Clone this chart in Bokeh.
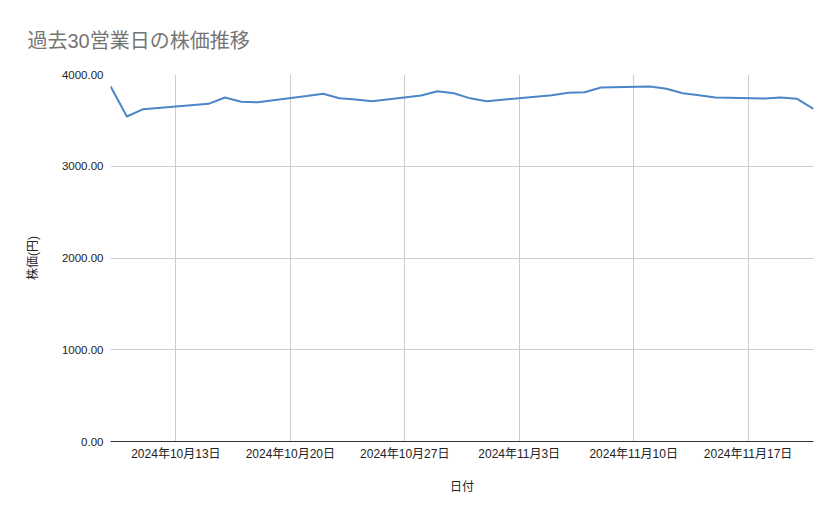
import pandas as pd
from bokeh.plotting import figure
from bokeh.models import FixedTicker, Range1d, NumeralTickFormatter, ColumnDataSource
from bokeh.embed import file_html
from bokeh.resources import INLINE

# ---- data ----
dates = ["2024-10-09", "2024-10-10", "2024-10-11", "2024-10-15", "2024-10-16",
         "2024-10-17", "2024-10-18", "2024-10-21", "2024-10-22", "2024-10-23",
         "2024-10-24", "2024-10-25", "2024-10-28", "2024-10-29", "2024-10-30",
         "2024-10-31", "2024-11-01", "2024-11-05", "2024-11-06", "2024-11-07",
         "2024-11-08", "2024-11-11", "2024-11-12", "2024-11-13", "2024-11-14",
         "2024-11-15", "2024-11-18", "2024-11-19", "2024-11-20", "2024-11-21"]
prices = [3872, 3542, 3622, 3680, 3749, 3702, 3698, 3765, 3790, 3742,
          3727, 3709, 3771, 3818, 3795, 3740, 3709, 3773, 3800, 3807,
          3858, 3869, 3844, 3796, 3775, 3749, 3738, 3749, 3735, 3626]
tick_dates = ["2024-10-13", "2024-10-20", "2024-10-27", "2024-11-03", "2024-11-10", "2024-11-17"]
tick_labels = ["2024年10月13日", "2024年10月20日", "2024年10月27日",
               "2024年11月3日", "2024年11月10日", "2024年11月17日"]
y_ticks = [0, 1000, 2000, 3000, 4000]
title_text = "過去30営業日の株価推移"
x_title = "日付"
y_title = "株価(円)"

FONT = "'Liberation Sans', 'Noto Sans CJK JP', sans-serif"

x = pd.to_datetime(dates)
src = ColumnDataSource(dict(x=x, y=prices))

tick_ms = [int(pd.Timestamp(d).value // 10**6) for d in tick_dates]

p = figure(width=839, height=519, x_axis_type="datetime",
           output_backend="svg", toolbar_location=None,
           x_range=Range1d(x[0], x[-1]), y_range=Range1d(0, 4000),
           min_border_left=110, min_border_right=26,
           min_border_top=74, min_border_bottom=78)
p.outline_line_color = None
p.background_fill_color = "white"
p.border_fill_color = "white"

p.line("x", "y", source=src, line_color="#4a86c8", line_width=2)

# title
p.title.text = title_text
p.title.align = "left"
p.title.offset = -83
p.title.standoff = 45
p.title.text_font = FONT
p.title.text_font_size = "20px"
p.title.text_font_style = "normal"
p.title.text_color = "#757575"

# x axis
xa = p.xaxis[0]
xa.ticker = FixedTicker(ticks=tick_ms)
xa.major_label_overrides = {t: l for t, l in zip(tick_ms, tick_labels)}
xa.major_tick_line_color = None
xa.minor_tick_line_color = None
xa.major_tick_out = 0
xa.major_tick_in = 0
xa.minor_tick_out = 0
xa.axis_line_color = "#333333"
xa.axis_line_width = 1
xa.major_label_standoff = 5
xa.major_label_text_font = FONT
xa.major_label_text_font_size = "12px"
xa.major_label_text_color = "#222222"
xa.axis_label = x_title
xa.axis_label_standoff = 16
xa.axis_label_text_font = FONT
xa.axis_label_text_font_size = "12px"
xa.axis_label_text_font_style = "normal"
xa.axis_label_text_color = "#222222"

# y axis
ya = p.yaxis[0]
ya.ticker = FixedTicker(ticks=y_ticks)
ya.formatter = NumeralTickFormatter(format="0.00")
ya.major_tick_line_color = None
ya.minor_tick_line_color = None
ya.major_tick_out = 0
ya.major_tick_in = 0
ya.minor_tick_out = 0
ya.axis_line_color = None
ya.major_label_standoff = 7
ya.major_label_text_font = FONT
ya.major_label_text_font_size = "11.5px"
ya.major_label_text_color = "#222222"
ya.axis_label = y_title
ya.axis_label_standoff = 19
ya.axis_label_text_font = FONT
ya.axis_label_text_font_size = "12px"
ya.axis_label_text_font_style = "normal"
ya.axis_label_text_color = "#222222"

# grids
p.xgrid.ticker = FixedTicker(ticks=tick_ms)
p.xgrid.grid_line_color = "#cccccc"
p.ygrid.ticker = FixedTicker(ticks=y_ticks)
p.ygrid.grid_line_color = "#cccccc"

open("out.html", "w").write(file_html(p, INLINE))
